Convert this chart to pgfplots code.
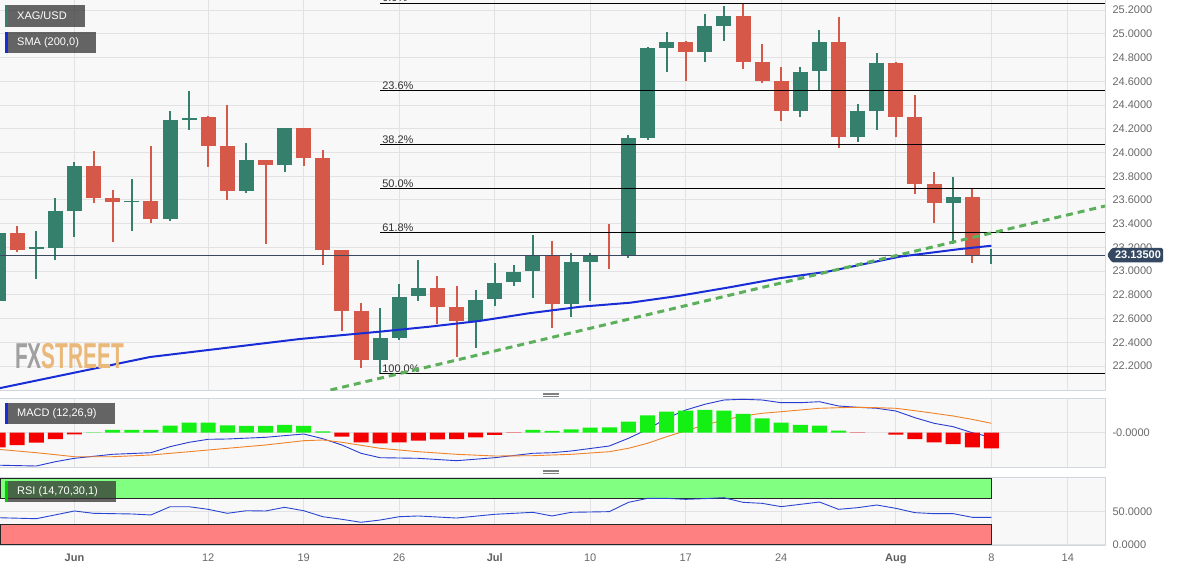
\documentclass[border=0pt]{standalone}
\usepackage{pgfplots}
\pgfplotsset{compat=1.18}
\usepackage{pgfplotstable}
\usepackage{fontspec}
\setmainfont{Liberation Sans}

\definecolor{bgc}{RGB}{248,248,248}
\definecolor{gridc}{RGB}{226,226,228}
\definecolor{framec}{RGB}{210,214,222}
\definecolor{candg}{RGB}{53,128,108}
\definecolor{candr}{RGB}{214,88,72}
\definecolor{smac}{RGB}{25,45,215}
\definecolor{trendc}{RGB}{92,176,92}
\definecolor{pricec}{RGB}{60,72,95}
\definecolor{tagc}{RGB}{52,72,98}
\definecolor{macdb}{RGB}{40,60,210}
\definecolor{macdo}{RGB}{240,130,40}
\definecolor{histg}{RGB}{20,240,20}
\definecolor{histr}{RGB}{245,0,0}
\definecolor{rsil}{RGB}{40,70,210}
\definecolor{rsig}{RGB}{128,255,128}
\definecolor{rsir}{RGB}{255,128,128}
\definecolor{labgray}{RGB}{105,105,105}
\definecolor{monthgray}{RGB}{95,95,95}
\definecolor{fibtext}{RGB}{50,50,50}
\definecolor{fxg}{RGB}{160,160,160}
\definecolor{fxo}{RGB}{234,184,120}

% daily candles, i = trading day counted from 1 Jun
\pgfplotstableread{
i o h l c
-4 22.748 23.330 22.689 23.322
-2 23.190 23.339 22.933 23.205
-1 23.195 23.617 23.094 23.507
0 23.507 23.920 23.288 23.887
3 23.580 23.777 23.339 23.595
5 23.440 24.350 23.420 24.274
6 24.270 24.519 24.190 24.290
9 23.676 24.080 23.659 23.937
11 23.895 24.210 23.836 24.207
16 22.251 22.689 22.133 22.436
17 22.436 22.892 22.419 22.782
18 22.791 23.094 22.748 22.858
21 22.580 22.841 22.352 22.757
22 22.765 23.069 22.706 22.900
23 22.908 23.052 22.875 22.993
24 22.998 23.305 22.774 23.128
26 22.723 23.153 22.613 23.077
27 23.077 23.153 22.748 23.128
29 23.136 24.148 23.111 24.123
30 24.123 24.890 24.106 24.881
31 24.881 25.016 24.679 24.932
33 24.848 25.168 24.763 25.067
34 25.067 25.236 24.941 25.151
38 24.350 24.721 24.300 24.679
39 24.688 25.033 24.519 24.932
41 24.131 24.409 24.089 24.350
42 24.350 24.839 24.190 24.755
46 23.575 23.794 23.229 23.625
48 23.130 23.186 23.060 23.140
}\tblgreen

\pgfplotstableread{
i o h l c
-3 23.322 23.381 23.161 23.178
1 23.887 24.013 23.575 23.617
2 23.617 23.684 23.246 23.583
4 23.592 24.055 23.406 23.440
7 24.300 24.310 23.879 24.055
8 24.055 24.401 23.600 23.676
10 23.937 23.940 23.229 23.895
12 24.207 24.210 23.887 23.954
13 23.954 24.021 23.052 23.178
14 23.178 23.180 22.495 22.664
15 22.664 22.731 22.183 22.251
19 22.858 22.959 22.554 22.698
20 22.698 22.875 22.276 22.580
25 23.128 23.254 22.521 22.723
28 23.140 23.397 23.018 23.125
32 24.932 24.940 24.603 24.848
35 25.151 25.258 24.704 24.763
36 24.763 24.915 24.586 24.603
37 24.603 24.721 24.266 24.350
40 24.932 25.145 24.038 24.131
43 24.755 24.763 24.131 24.300
44 24.300 24.485 23.648 23.735
45 23.735 23.836 23.406 23.575
47 23.625 23.692 23.069 23.135
}\tblred

\pgfplotstableread{
i v
-3.9 22.014
3.95 22.276
11.8 22.428
16.0 22.490
18.6 22.532
21.2 22.580
23.8 22.645
26.5 22.700
29.1 22.734
31.7 22.793
34.3 22.864
36.9 22.940
39.4 22.995
43.2 23.122
46.4 23.187
48.0 23.214
}\tblsma

\pgfplotstableread{
i v
1 0.004
2 0.027
3 0.027
4 0.027
5 0.070
6 0.100
7 0.100
8 0.073
9 0.067
10 0.067
11 0.077
12 0.067
13 0.013
24 0.027
25 0.017
26 0.033
27 0.050
28 0.053
29 0.110
30 0.173
31 0.210
32 0.220
33 0.227
34 0.220
35 0.187
36 0.143
37 0.100
38 0.077
39 0.070
40 0.020
}\tblhistg

\pgfplotstableread{
i v
-4 -0.146
-3 -0.123
-2 -0.100
-1 -0.063
0 -0.017
14 -0.040
15 -0.097
16 -0.107
17 -0.097
18 -0.080
19 -0.067
20 -0.063
21 -0.047
22 -0.023
23 -0.003
41 -0.003
43 -0.020
44 -0.063
45 -0.097
46 -0.113
47 -0.146
48 -0.156
}\tblhistr

\pgfplotstableread{
i v
-4 -0.325
-2 -0.333
-1 -0.290
0 -0.256
2 -0.216
4 -0.200
5 -0.140
6 -0.096
7 -0.066
8 -0.063
10 -0.046
12 -0.013
13 -0.060
14 -0.123
15 -0.206
16 -0.250
18 -0.256
20 -0.280
22 -0.250
24 -0.206
25 -0.200
26 -0.183
28 -0.133
29 -0.056
30 0.034
31 0.144
32 0.227
33 0.284
34 0.327
35 0.334
36 0.327
37 0.300
38 0.300
39 0.310
40 0.267
41 0.254
42 0.244
43 0.217
44 0.150
45 0.094
46 0.060
47 0.000
48 -0.046
}\tblmacd

\pgfplotstableread{
i v
-4 -0.166
-2 -0.200
0 -0.240
2 -0.240
4 -0.223
6 -0.190
8 -0.156
10 -0.123
12 -0.080
13 -0.073
14 -0.096
16 -0.156
18 -0.190
20 -0.216
22 -0.233
24 -0.230
26 -0.216
28 -0.190
29 -0.156
30 -0.106
31 -0.040
32 0.020
33 0.077
34 0.127
35 0.167
36 0.194
37 0.210
38 0.227
39 0.244
40 0.250
41 0.254
42 0.250
43 0.244
44 0.220
45 0.194
46 0.167
47 0.133
48 0.094
}\tblsig

\pgfplotstableread{
i v
-4 40.3
-2 38.8
0 50.4
1 46.9
3 45.9
4 44.4
5 56.8
6 56.8
7 52.9
8 46.9
9 50.8
10 50.4
11 55.9
12 50.8
13 41.8
14 37.9
15 33.4
16 36.8
17 41.8
18 42.9
20 39.8
22 45.4
24 48.4
25 42.9
26 48.4
28 49.4
29 63.4
30 69.4
31 69.4
32 67.9
33 69.0
34 70.4
35 63.4
36 61.9
37 56.9
38 60.4
39 63.9
40 52.9
41 55.4
42 59.4
43 54.4
44 47.9
45 46.4
46 46.4
47 40.9
48 40.9
}\tblrsi

\pgfplotsset{
  panel/.style={
    scale only axis, anchor=south west, width=1105pt,
    xmin=-3.9, xmax=53.95,
    xtick={0,7,12,17,22,27,32,37,43,48,52},
    xticklabels={},
    yticklabel pos=right,
    major tick length=0pt,
    grid=major,
    major grid style={draw=gridc, line width=1pt},
    axis line style={draw=framec, line width=1pt},
    axis background/.style={fill=bgc},
    tick label style={font=\fontsize{11}{13}\selectfont, text=labgray},
    yticklabel style={xshift=4pt},
    /pgf/number format/assume math mode=true,
  },
  candle/.style 2 args={draw=none, mark=none, error bars/.cd, y dir=both, y explicit,
    error mark=none, error bar style={draw=#1, line width=#2}},
}

\newcommand{\mon}[1]{\textcolor{monthgray}{\textbf{#1}}}

\begin{document}
\begin{tikzpicture}
\fill[white] (0pt,0pt) rectangle (1182pt,571pt);

% price panel
\begin{axis}[panel, at={(0pt,181pt)}, height=400pt,
  ymin=21.998, ymax=25.370,
  ytick={22.2,22.4,22.6,22.8,23.0,23.2,23.4,23.6,23.8,24.0,24.2,24.4,24.6,24.8,25.0,25.2},
  yticklabel={\pgfmathprintnumber[fixed,fixed zerofill,precision=4]{\tick}},
  clip mode=individual]
% wicks
\addplot[candle={candg}{2pt}]
  table[x=i, y expr={(\thisrow{h}+\thisrow{l})/2}, y error expr={(\thisrow{h}-\thisrow{l})/2}] {\tblgreen};
\addplot[candle={candr}{2pt}]
  table[x=i, y expr={(\thisrow{h}+\thisrow{l})/2}, y error expr={(\thisrow{h}-\thisrow{l})/2}] {\tblred};
% bodies
\addplot[candle={candg}{15pt}]
  table[x=i, y expr={(\thisrow{o}+\thisrow{c})/2}, y error expr={abs(\thisrow{c}-\thisrow{o})/2}] {\tblgreen};
\addplot[candle={candr}{15pt}]
  table[x=i, y expr={(\thisrow{o}+\thisrow{c})/2}, y error expr={abs(\thisrow{c}-\thisrow{o})/2}] {\tblred};
% last price
\addplot[pricec, line width=1pt] coordinates {(-3.9,23.135) (53.95,23.135)};
% fibonacci retracement 25.259 -> 22.133
\addplot[black, line width=1pt] coordinates {(16,25.259) (53.95,25.259)};
\addplot[black, line width=1pt] coordinates {(16,24.521) (53.95,24.521)};
\addplot[black, line width=1pt] coordinates {(16,24.065) (53.95,24.065)};
\addplot[black, line width=1pt] coordinates {(16,23.696) (53.95,23.696)};
\addplot[black, line width=1pt] coordinates {(16,23.327) (53.95,23.327)};
\addplot[black, line width=1pt] coordinates {(16,22.133) (53.95,22.133)};
\node[anchor=south west, inner sep=1pt, xshift=1pt, font=\fontsize{11}{13}\selectfont, text=fibtext] at (axis cs:16,25.259) {0.0\%};
\node[anchor=south west, inner sep=1pt, xshift=1pt, font=\fontsize{11}{13}\selectfont, text=fibtext] at (axis cs:16,24.521) {23.6\%};
\node[anchor=south west, inner sep=1pt, xshift=1pt, font=\fontsize{11}{13}\selectfont, text=fibtext] at (axis cs:16,24.065) {38.2\%};
\node[anchor=south west, inner sep=1pt, xshift=1pt, font=\fontsize{11}{13}\selectfont, text=fibtext] at (axis cs:16,23.696) {50.0\%};
\node[anchor=south west, inner sep=1pt, xshift=1pt, font=\fontsize{11}{13}\selectfont, text=fibtext] at (axis cs:16,23.327) {61.8\%};
\node[anchor=south west, inner sep=1pt, xshift=1pt, font=\fontsize{11}{13}\selectfont, text=fibtext] at (axis cs:16,22.133) {100.0\%};
% SMA 200 and trend line
\addplot[smac, line width=2pt] table[x=i, y=v] {\tblsma};
\addplot[trendc, line width=3pt, dash pattern=on 7pt off 5pt] coordinates {(13.4,21.998) (53.95,23.549)};
\coordinate (tag) at (axis cs:53.95,23.135);
\end{axis}

% MACD panel
\begin{axis}[panel, at={(0pt,103.7pt)}, height=69pt,
  ymin=-0.346, ymax=0.344, ytick={0}, yticklabels={-0.0000}]
\addplot[macdb, line width=0.9pt] table[x=i, y=v] {\tblmacd};
\addplot[macdo, line width=0.9pt] table[x=i, y=v] {\tblsig};
\addplot[ybar, bar width=15pt, bar shift=0pt, fill=histg, draw=none] table[x=i, y=v] {\tblhistg};
\addplot[ybar, bar width=15pt, bar shift=0pt, fill=histr, draw=none] table[x=i, y=v] {\tblhistr};
\end{axis}

% RSI panel
\begin{axis}[panel, at={(0pt,26pt)}, height=67.7pt,
  ymin=-0.75, ymax=101.05, ytick={0,50}, yticklabels={0.0000,50.0000},
  xticklabels={\mon{Jun},12,19,26,\mon{Jul},10,17,24,\mon{Aug},8,14},
  xticklabel style={yshift=-5pt}]
\addplot[fill=rsig, draw=black!85, line width=0.8pt] coordinates {(-3.9,70) (48,70) (48,100) (-3.9,100) (-3.9,70)};
\addplot[fill=rsir, draw=black!85, line width=0.8pt] coordinates {(-3.9,0) (48,0) (48,30) (-3.9,30) (-3.9,0)};
\addplot[rsil, line width=0.9pt] table[x=i, y=v] {\tblrsi};
\end{axis}

% price tag
\fill[tagc, rounded corners=1.5pt] ([xshift=2pt]tag) -- ([xshift=7pt,yshift=7.3pt]tag) -- ([xshift=58pt,yshift=7.3pt]tag)
  -- ([xshift=58pt,yshift=-7.3pt]tag) -- ([xshift=7pt,yshift=-7.3pt]tag) -- cycle;
\node[text=white, font=\fontsize{11}{13}\selectfont\bfseries, inner sep=0] at ([xshift=33pt]tag) {23.13500};

\begin{scope}[x=1pt,y=1pt]
% indicator labels
\fill[black!80, opacity=0.75] (5,544) rectangle (85,566);
\fill[candg] (5,544) rectangle (7.5,566);
\node[anchor=west, text=white, font=\fontsize{11}{13}\selectfont, inner sep=0] at (17,555) {XAG/USD};
\fill[black!80, opacity=0.75] (5,517.5) rectangle (96,539);
\fill[smac] (5,517.5) rectangle (7.5,539);
\node[anchor=west, text=white, font=\fontsize{11}{13}\selectfont, inner sep=0] at (17,528.2) {SMA (200,0)};
\fill[black!80, opacity=0.75] (5,146.7) rectangle (115,167.7);
\fill[smac] (5,146.7) rectangle (7.5,167.7);
\node[anchor=west, text=white, font=\fontsize{11}{13}\selectfont, inner sep=0] at (17,157.2) {MACD (12,26,9)};
\fill[black!80, opacity=0.75] (5,68.7) rectangle (116,90.3);
\fill[green!80!black] (5,68.7) rectangle (7.5,90.3);
\node[anchor=west, text=white, font=\fontsize{11}{13}\selectfont, inner sep=0] at (17,79.5) {RSI (14,70,30,1)};

% watermark
\node[anchor=west, inner sep=0] at (15,214.5)
  {\scalebox{0.58}[1]{\fontsize{36}{36}\selectfont\bfseries\textcolor{fxg}{FX}\textcolor{fxo}{STREET}}};

% panel handles
\foreach \yy in {178.2,176.6,175.0} \draw[gray, line width=0.6pt] (543,\yy) -- (559,\yy);
\foreach \yy in {101,99.4,97.8} \draw[gray, line width=0.6pt] (543,\yy) -- (559,\yy);
\end{scope}

\pgfresetboundingbox
\useasboundingbox (0pt,0pt) rectangle (1182pt,571pt);
\end{tikzpicture}
\end{document}
